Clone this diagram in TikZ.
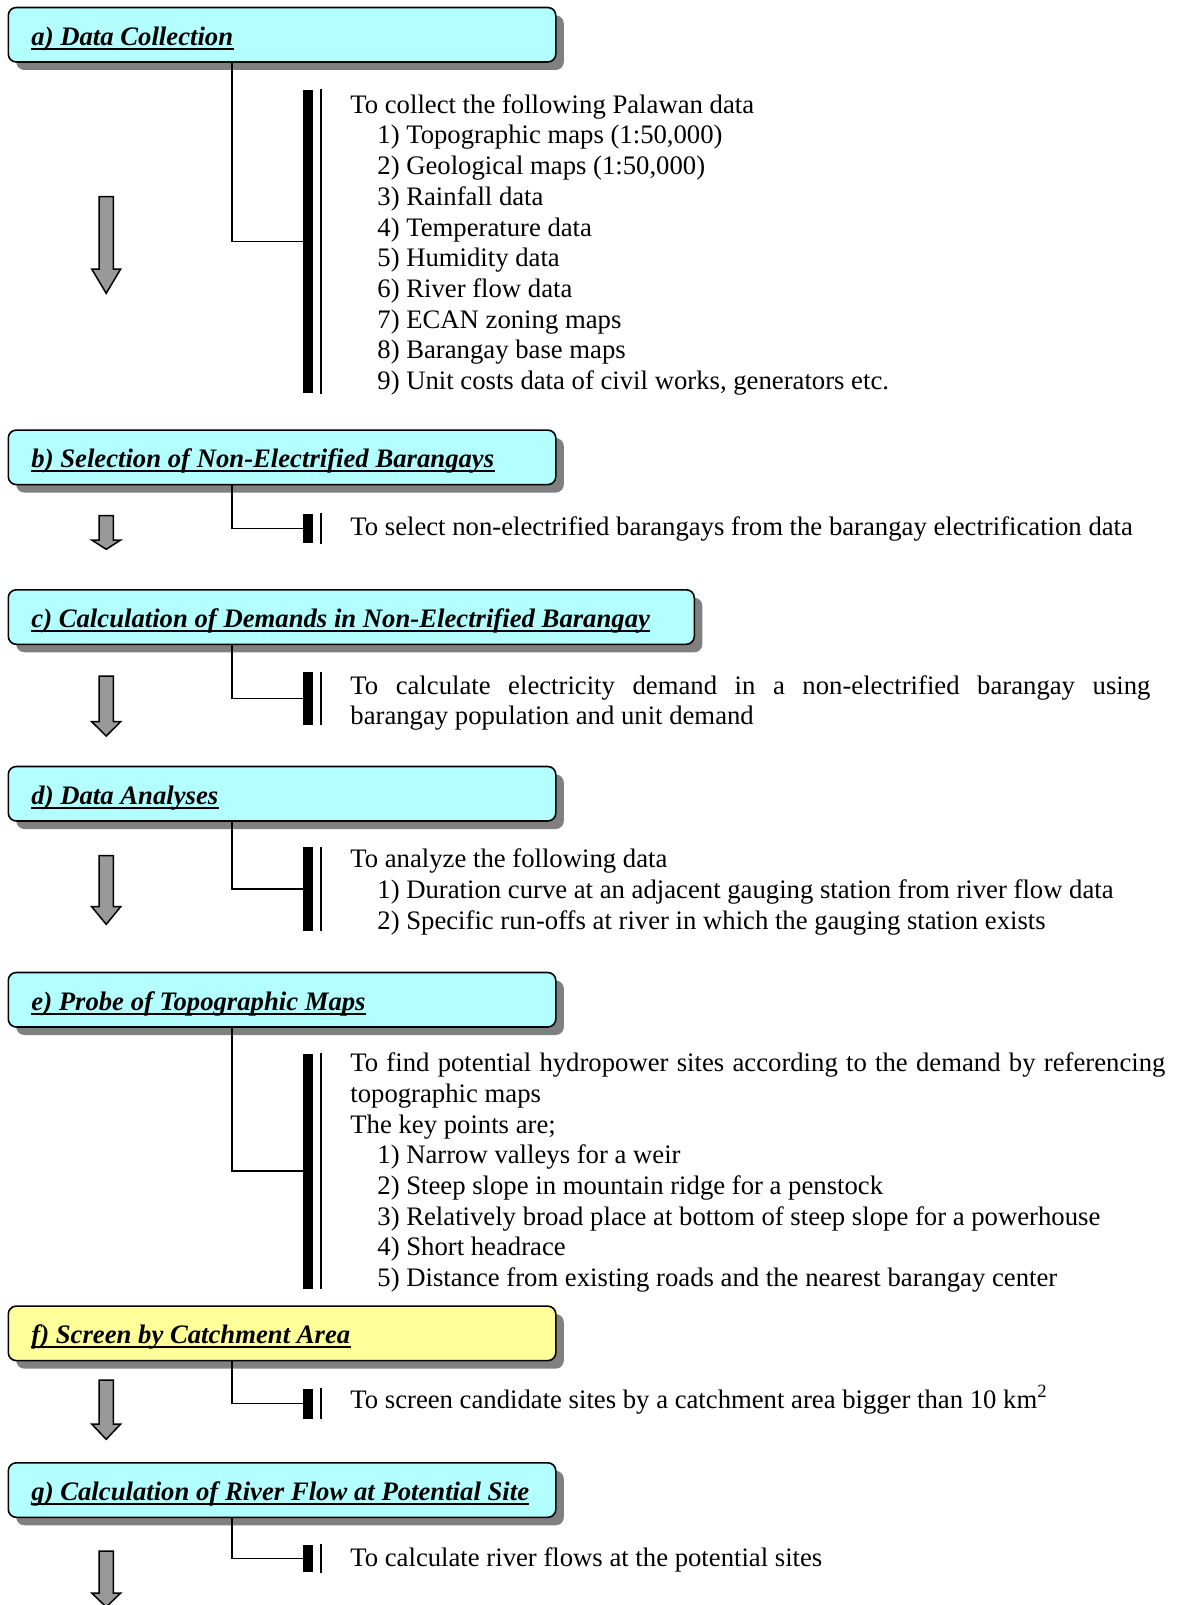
\documentclass[tikz,border=0pt]{standalone}
\usepackage{fontspec}
\setmainfont{Liberation Serif}
\usetikzlibrary{shadows}

\definecolor{boxcyan}{HTML}{B3FFFF}
\definecolor{boxyellow}{HTML}{FFFF99}
\definecolor{arrowgray}{HTML}{999999}
\definecolor{shadowgray}{HTML}{808080}

% block arrow pointing down: shaft top, head start, tip (all y values)
\newcommand\stagearrow[3]{%
  \draw[arrowshape] (99,#1) -- (113.3,#1) -- (113.3,#2) -- (120.7,#2)
    -- (106.2,#3) -- (91.7,#2) -- (99,#2) -- cycle;}

\begin{document}
\begin{tikzpicture}[x=0.5pt,y=-0.5pt,
  stagebox/.style={draw, line width=0.8pt, rounded corners=4pt, inner sep=0pt,
    anchor=north west, minimum width=273.75pt, minimum height=27.25pt,
    drop shadow={shadow xshift=4pt, shadow yshift=-4pt, fill=shadowgray, opacity=1}},
  title/.style={font=\fontsize{13.35pt}{15pt}\selectfont\bfseries\itshape,
    inner sep=0pt, anchor=base west},
  uline/.style={line width=1pt},
  body/.style={font=\fontsize{13.35pt}{15.3pt}\selectfont, inner sep=0pt, anchor=base west},
  bar/.style={fill=black, inner sep=0pt, minimum width=4.75pt, anchor=north west},
  thinrule/.style={line width=0.7pt},
  link/.style={line width=0.75pt},
  arrowshape/.style={draw, fill=arrowgray, line width=0.75pt, line join=miter}]

\useasboundingbox (0,0) rectangle (1177,1605);

% ---------- stage boxes ----------
\node[stagebox, fill=boxcyan] (boxA) at (7.5,6.7) {};
\node[stagebox, fill=boxcyan] (boxB) at (7.5,429.3) {};
\node[stagebox, fill=boxcyan, minimum width=343pt] (boxC) at (7.5,589) {};
\node[stagebox, fill=boxcyan] (boxD) at (7.5,765.7) {};
\node[stagebox, fill=boxcyan] (boxE) at (7.5,971.7) {};
\node[stagebox, fill=boxyellow] (boxF) at (7.5,1305.3) {};
\node[stagebox, fill=boxcyan] (boxG) at (7.5,1462) {};

% ---------- stage titles ----------
\node[title] (tA) at (31,45.5) {a) Data Collection};
\node[title] (tB) at (31,467.6) {b) Selection of Non-Electrified Barangays};
\node[title] (tC) at (31,627.3) {c) Calculation of Demands in Non-Electrified Barangay};
\node[title] (tD) at (31,804) {d) Data Analyses};
\node[title] (tE) at (31,1010) {e) Probe of Topographic Maps};
\node[title] (tF) at (31,1343.6) {f) Screen by Catchment Area};
\node[title] (tG) at (31,1500.3) {g) Calculation of River Flow at Potential Site};
\foreach \t in {tA,tB,tC,tD,tE,tF,tG}
  \draw[uline] ([yshift=-1.8pt]\t.base west) -- ([yshift=-1.8pt]\t.base east);

% ---------- brackets ----------
\node[bar, minimum height=151.7pt] (barA) at (303,89.3) {};
\node[bar, minimum height=14.7pt]  (barB) at (303,513.3) {};
\node[bar, minimum height=26.2pt]  (barC) at (303,672) {};
\node[bar, minimum height=41.7pt]  (barD) at (303,846.7) {};
\node[bar, minimum height=117.5pt] (barE) at (303,1053.3) {};
\node[bar, minimum height=15pt]    (barF) at (303,1388.3) {};
\node[bar, minimum height=13.7pt]  (barG) at (303,1544.3) {};
\foreach \b in {barA,barB,barC,barD,barE,barF,barG}
  \draw[thinrule] ([xshift=3.75pt]\b.north east) -- ([xshift=3.75pt]\b.south east);

% ---------- connectors from boxes to brackets ----------
\foreach \s in {A,B,C,D,E,F,G}
  \draw[link] ([xshift=112.25pt]box\s.south west) |- (bar\s.west);

% ---------- flow arrows ----------
\stagearrow{196.7}{269}{293.3}
\stagearrow{515.7}{540}{549.3}
\stagearrow{676}{721.7}{736}
\stagearrow{855.7}{906.7}{924.3}
\stagearrow{1380}{1424}{1439.3}
\stagearrow{1551}{1593}{1607}

% ---------- descriptions ----------
\node[body] (a0) at (350,113.3) {To collect the following Palawan data};
\node[body] (a1) at (377,144.0) {1) Topographic maps (1:50,000)};
\node[body] (a2) at (377,174.7) {2) Geological maps (1:50,000)};
\node[body] (a3) at (377,205.4) {3) Rainfall data};
\node[body] (a4) at (377,236.1) {4) Temperature data};
\node[body] (a5) at (377,266.8) {5) Humidity data};
\node[body] (a6) at (377,297.5) {6) River flow data};
\node[body] (a7) at (377,328.2) {7) ECAN zoning maps};
\node[body] (a8) at (377,358.9) {8) Barangay base maps};
\node[body] (a9) at (377,389.6) {9) Unit costs data of civil works, generators etc.};

\node[body] (b0) at (350,535) {To select non-electrified barangays from the barangay electrification data};

\node[body] (c0) at (350,694) {\makebox[400pt][s]{To calculate electricity demand in a non-electrified barangay using}};
\node[body] (c1) at (350,724.7) {barangay population and unit demand};

\node[body] (d0) at (350,867.7) {To analyze the following data};
\node[body] (d1) at (377,898.4) {1) Duration curve at an adjacent gauging station from river flow data};
\node[body] (d2) at (377,929.1) {2) Specific run-offs at river in which the gauging station exists};

\node[body] (e0) at (350,1071.7) {\makebox[407.5pt][s]{To find potential hydropower sites according to the demand by referencing}};
\node[body] (e1) at (350,1102.4) {topographic maps};
\node[body] (e2) at (350,1133.1) {The key points are;};
\node[body] (e3) at (377,1163.8) {1) Narrow valleys for a weir};
\node[body] (e4) at (377,1194.5) {2) Steep slope in mountain ridge for a penstock};
\node[body] (e5) at (377,1225.2) {3) Relatively broad place at bottom of steep slope for a powerhouse};
\node[body] (e6) at (377,1255.9) {4) Short headrace};
\node[body] (e7) at (377,1286.6) {5) Distance from existing roads and the nearest barangay center};

\node[body] (f0) at (350,1408.3) {To screen candidate sites by a catchment area bigger than 10 km\textsuperscript{2}};

\node[body] (g0) at (350,1566) {To calculate river flows at the potential sites};

\end{tikzpicture}
\end{document}
